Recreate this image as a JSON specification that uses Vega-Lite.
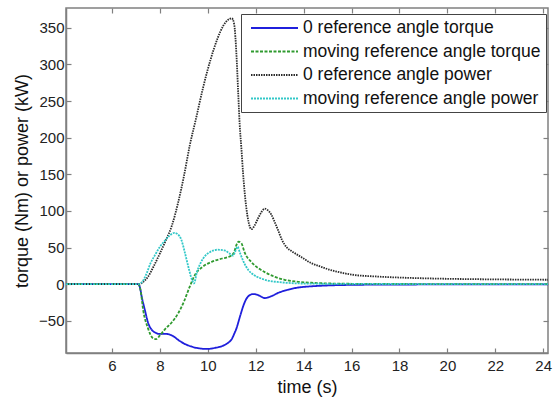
{
  "$schema": "https://vega.github.io/schema/vega-lite/v6.json",
  "width": 482,
  "height": 345,
  "autosize": "none",
  "padding": {"left": 66, "top": 8, "right": 7, "bottom": 45},
  "background": "white",
  "config": {
    "font": "Liberation Sans",
    "view": {"stroke": "#808080", "strokeWidth": 1.5},
    "axis": {"grid": false, "labelFontSize": 15, "labelColor": "#222", "titleFontSize": 18, "titleFontWeight": "normal", "titleColor": "#111", "domainColor": "#808080", "domainWidth": 1.5, "tickColor": "#808080", "tickSize": -5, "tickWidth": 1.2}
  },
  "datasets": {
    "curves": [
      {"t":4.08,"v":0,"s":"0 reference angle torque"},{"t":7.1,"v":0,"s":"0 reference angle torque"},{"t":7.17,"v":-5,"s":"0 reference angle torque"},{"t":7.24,"v":-17,"s":"0 reference angle torque"},{"t":7.37,"v":-35,"s":"0 reference angle torque"},{"t":7.51,"v":-53,"s":"0 reference angle torque"},{"t":7.65,"v":-62,"s":"0 reference angle torque"},{"t":7.8,"v":-66,"s":"0 reference angle torque"},{"t":8.0,"v":-68,"s":"0 reference angle torque"},{"t":8.28,"v":-68,"s":"0 reference angle torque"},{"t":8.55,"v":-71,"s":"0 reference angle torque"},{"t":8.8,"v":-77,"s":"0 reference angle torque"},{"t":9.0,"v":-81,"s":"0 reference angle torque"},{"t":9.3,"v":-85,"s":"0 reference angle torque"},{"t":9.6,"v":-87.5,"s":"0 reference angle torque"},{"t":9.95,"v":-88.5,"s":"0 reference angle torque"},{"t":10.3,"v":-87,"s":"0 reference angle torque"},{"t":10.64,"v":-84,"s":"0 reference angle torque"},{"t":10.85,"v":-80,"s":"0 reference angle torque"},{"t":11.0,"v":-75,"s":"0 reference angle torque"},{"t":11.1,"v":-68,"s":"0 reference angle torque"},{"t":11.2,"v":-60,"s":"0 reference angle torque"},{"t":11.3,"v":-49,"s":"0 reference angle torque"},{"t":11.4,"v":-38,"s":"0 reference angle torque"},{"t":11.5,"v":-28,"s":"0 reference angle torque"},{"t":11.61,"v":-20,"s":"0 reference angle torque"},{"t":11.75,"v":-15,"s":"0 reference angle torque"},{"t":11.9,"v":-13.5,"s":"0 reference angle torque"},{"t":12.1,"v":-15,"s":"0 reference angle torque"},{"t":12.38,"v":-19,"s":"0 reference angle torque"},{"t":12.65,"v":-16.5,"s":"0 reference angle torque"},{"t":12.93,"v":-12,"s":"0 reference angle torque"},{"t":13.3,"v":-8,"s":"0 reference angle torque"},{"t":13.7,"v":-5,"s":"0 reference angle torque"},{"t":14.3,"v":-3,"s":"0 reference angle torque"},{"t":15,"v":-1.8,"s":"0 reference angle torque"},{"t":16,"v":-1,"s":"0 reference angle torque"},{"t":18,"v":-0.5,"s":"0 reference angle torque"},{"t":20,"v":-0.4,"s":"0 reference angle torque"},{"t":24.2,"v":-0.3,"s":"0 reference angle torque"},

      {"t":4.08,"v":0,"s":"moving reference angle torque"},{"t":7.1,"v":0,"s":"moving reference angle torque"},{"t":7.2,"v":-10,"s":"moving reference angle torque"},{"t":7.3,"v":-35,"s":"moving reference angle torque"},{"t":7.5,"v":-60,"s":"moving reference angle torque"},{"t":7.72,"v":-74,"s":"moving reference angle torque"},{"t":7.85,"v":-75,"s":"moving reference angle torque"},{"t":8.0,"v":-70,"s":"moving reference angle torque"},{"t":8.2,"v":-62,"s":"moving reference angle torque"},{"t":8.5,"v":-52,"s":"moving reference angle torque"},{"t":8.76,"v":-40,"s":"moving reference angle torque"},{"t":9.0,"v":-24,"s":"moving reference angle torque"},{"t":9.25,"v":-3,"s":"moving reference angle torque"},{"t":9.45,"v":12,"s":"moving reference angle torque"},{"t":9.8,"v":24,"s":"moving reference angle torque"},{"t":10.2,"v":31,"s":"moving reference angle torque"},{"t":10.6,"v":35,"s":"moving reference angle torque"},{"t":10.99,"v":39,"s":"moving reference angle torque"},{"t":11.1,"v":44,"s":"moving reference angle torque"},{"t":11.2,"v":54,"s":"moving reference angle torque"},{"t":11.29,"v":58,"s":"moving reference angle torque"},{"t":11.4,"v":56,"s":"moving reference angle torque"},{"t":11.54,"v":43,"s":"moving reference angle torque"},{"t":11.82,"v":30,"s":"moving reference angle torque"},{"t":12.1,"v":22,"s":"moving reference angle torque"},{"t":12.4,"v":16,"s":"moving reference angle torque"},{"t":12.8,"v":10,"s":"moving reference angle torque"},{"t":13.2,"v":6,"s":"moving reference angle torque"},{"t":13.7,"v":3.5,"s":"moving reference angle torque"},{"t":14.4,"v":1.8,"s":"moving reference angle torque"},{"t":15,"v":1,"s":"moving reference angle torque"},{"t":16,"v":0.5,"s":"moving reference angle torque"},{"t":18,"v":0.2,"s":"moving reference angle torque"},{"t":24.2,"v":0,"s":"moving reference angle torque"},

      {"t":4.08,"v":0,"s":"0 reference angle power"},{"t":7.1,"v":0,"s":"0 reference angle power"},{"t":7.3,"v":3,"s":"0 reference angle power"},{"t":7.5,"v":10,"s":"0 reference angle power"},{"t":7.75,"v":25,"s":"0 reference angle power"},{"t":8.0,"v":42,"s":"0 reference angle power"},{"t":8.25,"v":60,"s":"0 reference angle power"},{"t":8.5,"v":80,"s":"0 reference angle power"},{"t":8.75,"v":110,"s":"0 reference angle power"},{"t":9.0,"v":147,"s":"0 reference angle power"},{"t":9.25,"v":190,"s":"0 reference angle power"},{"t":9.5,"v":225,"s":"0 reference angle power"},{"t":9.8,"v":268,"s":"0 reference angle power"},{"t":10.1,"v":305,"s":"0 reference angle power"},{"t":10.4,"v":335,"s":"0 reference angle power"},{"t":10.65,"v":353,"s":"0 reference angle power"},{"t":10.9,"v":362,"s":"0 reference angle power"},{"t":11.0,"v":363,"s":"0 reference angle power"},{"t":11.1,"v":355,"s":"0 reference angle power"},{"t":11.2,"v":310,"s":"0 reference angle power"},{"t":11.27,"v":260,"s":"0 reference angle power"},{"t":11.33,"v":218,"s":"0 reference angle power"},{"t":11.4,"v":186,"s":"0 reference angle power"},{"t":11.47,"v":152,"s":"0 reference angle power"},{"t":11.6,"v":106,"s":"0 reference angle power"},{"t":11.7,"v":85,"s":"0 reference angle power"},{"t":11.82,"v":75,"s":"0 reference angle power"},{"t":11.95,"v":80,"s":"0 reference angle power"},{"t":12.1,"v":90,"s":"0 reference angle power"},{"t":12.25,"v":99,"s":"0 reference angle power"},{"t":12.38,"v":103,"s":"0 reference angle power"},{"t":12.5,"v":101,"s":"0 reference angle power"},{"t":12.65,"v":95,"s":"0 reference angle power"},{"t":12.8,"v":84,"s":"0 reference angle power"},{"t":12.93,"v":74,"s":"0 reference angle power"},{"t":13.1,"v":60,"s":"0 reference angle power"},{"t":13.3,"v":50,"s":"0 reference angle power"},{"t":13.5,"v":45,"s":"0 reference angle power"},{"t":13.9,"v":37,"s":"0 reference angle power"},{"t":14.3,"v":29,"s":"0 reference angle power"},{"t":14.7,"v":24,"s":"0 reference angle power"},{"t":15.0,"v":20.5,"s":"0 reference angle power"},{"t":15.4,"v":17,"s":"0 reference angle power"},{"t":16,"v":13,"s":"0 reference angle power"},{"t":17,"v":10.5,"s":"0 reference angle power"},{"t":18,"v":9,"s":"0 reference angle power"},{"t":19,"v":8,"s":"0 reference angle power"},{"t":20,"v":7.3,"s":"0 reference angle power"},{"t":22,"v":6.5,"s":"0 reference angle power"},{"t":24.2,"v":6,"s":"0 reference angle power"},

      {"t":4.08,"v":0,"s":"moving reference angle power"},{"t":7.1,"v":0,"s":"moving reference angle power"},{"t":7.3,"v":5,"s":"moving reference angle power"},{"t":7.45,"v":15,"s":"moving reference angle power"},{"t":7.6,"v":28,"s":"moving reference angle power"},{"t":7.8,"v":40,"s":"moving reference angle power"},{"t":8.0,"v":51,"s":"moving reference angle power"},{"t":8.2,"v":59,"s":"moving reference angle power"},{"t":8.4,"v":66,"s":"moving reference angle power"},{"t":8.6,"v":70,"s":"moving reference angle power"},{"t":8.75,"v":68,"s":"moving reference angle power"},{"t":8.9,"v":60,"s":"moving reference angle power"},{"t":9.05,"v":42,"s":"moving reference angle power"},{"t":9.2,"v":22,"s":"moving reference angle power"},{"t":9.35,"v":5,"s":"moving reference angle power"},{"t":9.42,"v":1,"s":"moving reference angle power"},{"t":9.55,"v":17,"s":"moving reference angle power"},{"t":9.7,"v":29,"s":"moving reference angle power"},{"t":9.9,"v":39,"s":"moving reference angle power"},{"t":10.1,"v":44,"s":"moving reference angle power"},{"t":10.4,"v":47,"s":"moving reference angle power"},{"t":10.7,"v":46,"s":"moving reference angle power"},{"t":10.9,"v":42,"s":"moving reference angle power"},{"t":11.05,"v":39,"s":"moving reference angle power"},{"t":11.15,"v":45,"s":"moving reference angle power"},{"t":11.24,"v":51,"s":"moving reference angle power"},{"t":11.35,"v":42,"s":"moving reference angle power"},{"t":11.5,"v":30,"s":"moving reference angle power"},{"t":11.7,"v":19,"s":"moving reference angle power"},{"t":11.9,"v":13,"s":"moving reference angle power"},{"t":12.2,"v":8,"s":"moving reference angle power"},{"t":12.5,"v":5,"s":"moving reference angle power"},{"t":12.9,"v":3,"s":"moving reference angle power"},{"t":13.3,"v":1.8,"s":"moving reference angle power"},{"t":14,"v":0.8,"s":"moving reference angle power"},{"t":16,"v":0.3,"s":"moving reference angle power"},{"t":24.2,"v":0,"s":"moving reference angle power"}
    ]
  },
  "data": {"name": "curves"},
  "layer": [
    {
      "mark": {"type": "line", "strokeWidth": 1.8, "interpolate": "monotone", "clip": true},
      "encoding": {
        "x": {"field": "t", "type": "quantitative", "scale": {"domain": [4.08, 24.2], "nice": false, "zero": false},
              "axis": {"title": "time (s)", "values": [6,8,10,12,14,16,18,20,22,24], "labelPadding": 10, "titlePadding": 5}},
        "y": {"field": "v", "type": "quantitative", "scale": {"domain": [-94, 377], "nice": false, "zero": false},
              "axis": {"title": "torque (Nm) or power (kW)", "values": [-50,0,50,100,150,200,250,300,350], "labelPadding": 7, "titlePadding": 7}},
        "color": {"field": "s", "type": "nominal",
                  "scale": {"domain": ["0 reference angle torque", "moving reference angle torque", "0 reference angle power", "moving reference angle power"],
                            "range": ["#1f1fdc", "#2f9a2f", "#2b2b2b", "#33c8c8"]},
                  "legend": {"title": null, "orient": "none", "legendX": 175, "legendY": 6, "fillColor": "white", "strokeColor": "#444", "padding": 5,
                             "labelFontSize": 17.5, "labelColor": "#111", "symbolType": "M-0.5,0H5.375", "symbolSize": 256, "symbolStrokeWidth": 1.8,
                             "rowPadding": 5.5, "labelOffset": 39, "labelLimit": 400}},
        "strokeDash": {"field": "s", "type": "nominal",
                  "scale": {"domain": ["0 reference angle torque", "moving reference angle torque", "0 reference angle power", "moving reference angle power"],
                            "range": [[1, 0], [3, 1.5], [1.5, 1], [2, 1]]},
                  "legend": null}
      }
    },
    {
      "mark": {"type": "rule", "opacity": 0},
      "encoding": {
        "x": {"field": "t", "type": "quantitative", "axis": {"orient": "top", "labels": false, "title": null, "domain": false, "values": [6,8,10,12,14,16,18,20,22,24]}},
        "y": {"field": "v", "type": "quantitative", "axis": {"orient": "right", "labels": false, "title": null, "domain": false, "values": [-50,0,50,100,150,200,250,300,350]}}
      }
    }
  ],
  "resolve": {"axis": {"x": "independent", "y": "independent"}}
}
